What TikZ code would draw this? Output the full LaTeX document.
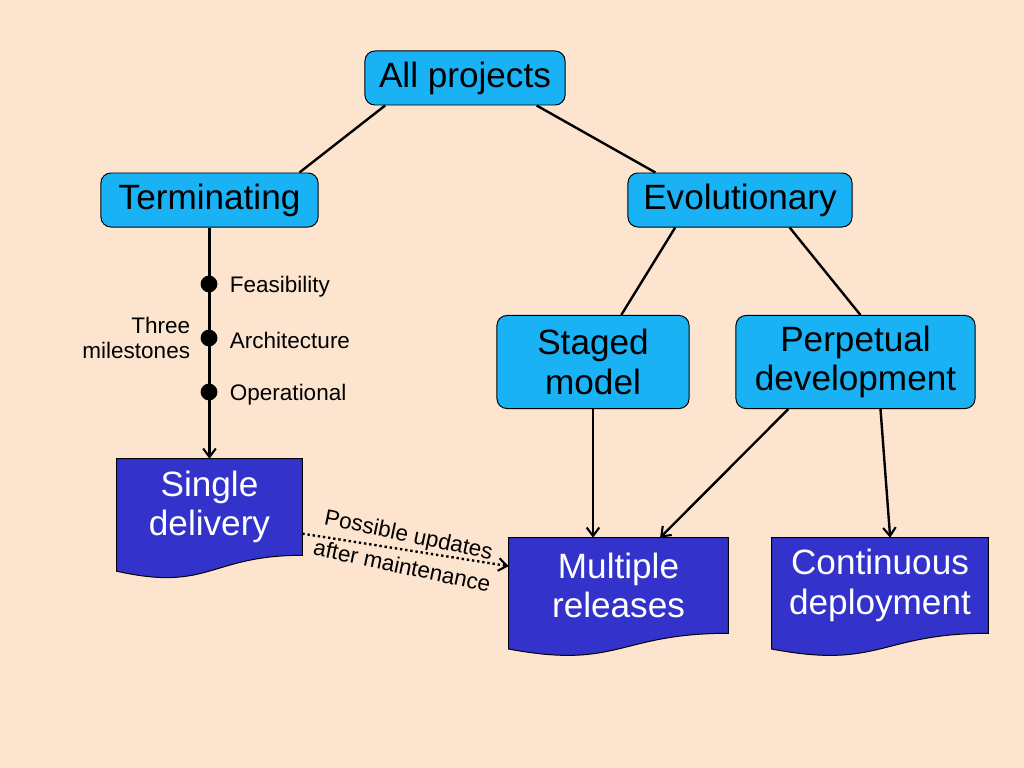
\documentclass[tikz,border=0pt]{standalone}
\usepackage{fontspec}
\setmainfont{Liberation Sans}
\usetikzlibrary{arrows.meta,calc,positioning,backgrounds}
\definecolor{peach}{RGB}{253,228,206}
\definecolor{skyblue}{RGB}{25,178,245}
\definecolor{docblue}{RGB}{51,51,204}
% wavy bottom of a document node
\newcommand\docpath[1]{%
  \filldraw[fill=docblue,draw=black,line width=0.7pt] (#1.north west) -- (#1.north east) -- (#1.south east)
    .. controls (#1.south) and ($(#1.north)!1.381!(#1.south)$) .. ($(#1.north west)!1.1646!(#1.south west)$) -- cycle;}

\begin{document}
\begin{tikzpicture}[x=0.025cm,y=-0.025cm,
  box/.style={draw=black,line width=0.7pt,fill=skyblue,rounded corners=7pt,align=center,
    font=\fontsize{25}{28}\selectfont,inner sep=0pt},
  doc/.style={align=center,text=white,font=\fontsize{25}{28}\selectfont,inner sep=0pt},
  link/.style={line width=1.7pt},
  arr/.style={link,-{Straight Barb[length=6pt,width=9pt,line width=1.5pt]}},
  mile/.style={circle,fill=black,inner sep=0pt,minimum size=0.42cm},
  small/.style={font=\fontsize{16}{18}\selectfont,inner sep=0pt}]
\useasboundingbox (0,0) rectangle (1024,768);
%% boxes
\node[box,minimum width=5cm,minimum height=1.35cm] (allproj) at (465,78) {All projects};
\node[box,minimum width=5.425cm,minimum height=1.35cm] (term) at (209.5,200) {Terminating};
\node[box,minimum width=5.6cm,minimum height=1.35cm] (evol) at (740,200) {Evolutionary};
\node[box,minimum width=4.8cm,minimum height=2.325cm] (staged) at (593,362) {Staged\\model};
\node[box,minimum width=5.975cm,minimum height=2.325cm] (perpet) at (855.5,362) {Perpetual\\development};
%% documents
\node[doc,minimum width=4.625cm,minimum height=2.4cm] (single) at (209.5,507) {Single\\delivery};
\node[doc,minimum width=5.475cm,minimum height=2.375cm] (multi) at (618.5,585.5) {Multiple\\releases};
\node[doc,minimum width=5.4cm,minimum height=2.375cm] (contin) at (880,585.5) {Continuous\\deployment};
%% tree lines
\draw[link] (allproj.199) -- (term.17);
\draw[link] (allproj.339) -- (evol.162);
\draw[link] (evol.203) -- (staged.59);
\draw[link] (evol.331) -- (perpet.84);
%% milestones
\draw[arr] (term.south) -- (single.north);
\node[mile] (feas) at (209,284) {};
\node[mile] (arch) at (209,338) {};
\node[mile] (oper) at (209,392) {};
\node[small,right=0.3cm of feas,yshift=-2pt] {Feasibility};
\node[small,right=0.3cm of arch,yshift=-2pt] {Architecture};
\node[small,right=0.3cm of oper,yshift=-2pt] {Operational};
\node[small,align=right,left=0.25cm of arch] {Three\\milestones};
%% releases
\draw[arr] (staged.south) -- (staged.south |- multi.north);
\draw[arr] (perpet.215) -- (multi.49);
\draw[arr] (perpet.298) -- (contin.78);
\draw[arr,dotted] (single.-16) -- node[small,midway,sloped,rotate=-3,align=center,font=\fontsize{16}{23}\selectfont] {Possible updates\\after maintenance} (multi.170);
\begin{scope}[on background layer]
\fill[peach] (0,0) rectangle (1024,768);
\docpath{single}
\docpath{multi}
\docpath{contin}
\end{scope}
\end{tikzpicture}
\end{document}
